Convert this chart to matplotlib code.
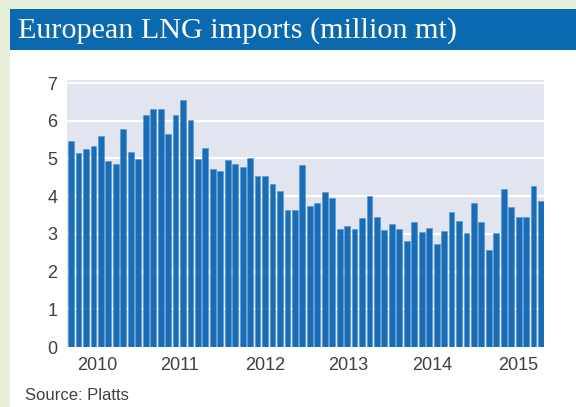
import numpy as np
import matplotlib.pyplot as plt
from matplotlib.patches import Rectangle

# ============================================================
# Data: monthly European LNG imports, Jan 2010 onward (million mt)
# ============================================================
imports = [
    5.45, 5.14, 5.25, 5.34, 5.60, 4.92, 4.85, 5.77, 5.18, 4.99, 6.15, 6.30,
    6.30, 5.64, 6.14, 6.55, 6.03, 4.98, 5.29, 4.73, 4.68, 4.96, 4.84, 4.77,
    5.00, 4.54, 4.54, 4.32, 4.14, 3.62, 3.62, 4.83, 3.74, 3.83, 4.12, 3.96,
    3.14, 3.20, 3.12, 3.43, 4.00, 3.46, 3.10, 3.27, 3.12, 2.82, 3.32, 3.04,
    3.16, 2.73, 3.08, 3.59, 3.35, 3.02, 3.81, 3.32, 2.57, 3.03, 4.18, 3.72,
    3.45, 3.44, 4.27, 3.87,
]
year_labels = ["2010", "2011", "2012", "2013", "2014", "2015"]
year_pos = [3.5, 14.5, 26.0, 37.1, 48.4, 59.9]
y_ticks = [0, 1, 2, 3, 4, 5, 6, 7]

title = "European LNG imports (million mt)"
source = "Source: Platts"

# ============================================================
# Figure and panels
# ============================================================
W, H = 576, 407
fig = plt.figure(figsize=(W / 100, H / 100), dpi=100)
fig.patch.set_facecolor("#e8f0dc")

# white panel
fig.add_artist(Rectangle((10 / W, 0), 1 - 10 / W, (H - 50) / H,
                         transform=fig.transFigure, facecolor="white",
                         edgecolor="none", zorder=0))
# title banner
fig.add_artist(Rectangle((10 / W, (H - 50) / H), 1 - 10 / W, 41 / H,
                         transform=fig.transFigure, facecolor="#0b69b0",
                         edgecolor="none", zorder=0))
fig.text(18 / W, (H - 31) / H, title, color="white", fontsize=21.7,
         family="Liberation Serif", va="center", ha="left")

# ============================================================
# Bar chart
# ============================================================
left, right, top, bottom = 67, 544, 80, 347
ax = fig.add_axes([left / W, (H - bottom) / H, (right - left) / W, (bottom - top) / H])
ax.set_facecolor("#e1e5f0")

x = np.arange(len(imports))
ax.bar(x, imports, width=0.78, color="#1a6cb4", edgecolor="#4a97d8",
       linewidth=0.4, zorder=3)

ax.set_xlim(-0.55, 63.4)
ax.set_ylim(0, 7.08)
ax.set_yticks(y_ticks)
ax.set_xticks(year_pos)
ax.set_xticklabels(year_labels)
ax.grid(axis="y", color="white", linewidth=1.6, zorder=1)
ax.set_axisbelow(True)

for s in ax.spines.values():
    s.set_visible(False)
ax.tick_params(axis="both", length=0, colors="#404040", labelsize=13)
ax.tick_params(axis="y", pad=7)
ax.tick_params(axis="x", pad=7)
for lab in ax.get_xticklabels() + ax.get_yticklabels():
    lab.set_family("Liberation Sans")

fig.text(25 / W, 11 / H, source, color="#404040", fontsize=12,
         family="Liberation Sans", va="center", ha="left")

fig.savefig("out.png", dpi=100)
